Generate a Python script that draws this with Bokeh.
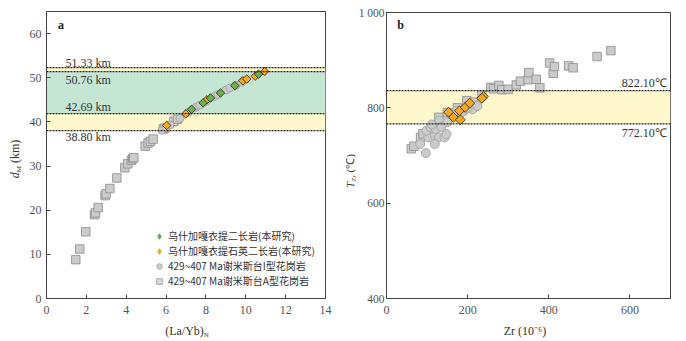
from bokeh.plotting import figure
from bokeh.models import Range1d, BoxAnnotation, Span, Label, Legend, LegendItem, FixedTicker, Div
from bokeh.layouts import row, column
from bokeh.embed import file_html
from bokeh.resources import INLINE
import numpy as np

# ---------------- data: panel a ----------------
a_sq_x = [1.47, 1.67, 1.97, 2.41, 2.46, 2.59, 2.94, 2.99, 3.18, 3.53, 3.93, 4.08, 4.26, 4.33, 4.38,
          4.95, 5.10, 5.22, 5.35, 5.86, 5.94, 6.39, 6.57]
a_sq_y = [8.8, 11.2, 15.1, 19.0, 19.4, 20.6, 23.3, 23.7, 24.9, 27.3, 29.6, 30.5, 31.3, 31.7, 31.9,
          34.5, 35.2, 35.6, 36.1, 38.4, 38.6, 40.1, 40.6]
a_ci_x = [5.8, 6.0, 6.2, 6.7, 7.1, 7.5, 7.7, 8.0, 8.4, 8.6, 9.0, 9.2, 9.5, 9.8]
a_ci_y = [38.1, 38.7, 39.3, 40.8, 42.1, 43.3, 43.8, 44.6, 45.7, 46.2, 47.2, 47.7, 48.3, 49.0]
a_gr_x = [7.28, 7.86, 8.23, 8.73, 9.45, 10.64]
a_gr_y = [42.85, 44.3, 45.4, 46.55, 48.2, 50.8]
a_or_x = [6.03, 6.99, 8.05, 9.85, 10.05, 10.47, 10.95]
a_or_y = [39.2, 41.8, 45.0, 49.3, 49.7, 50.35, 51.45]
a_band_lines = [38.0, 41.85, 51.4, 52.3]
a_band_texts = ["38.80 km", "42.69 km", "50.76 km", "51.33 km"]
a_xticks = [0, 2, 4, 6, 8, 10, 12, 14]
a_yticks = [0, 10, 20, 30, 40, 50, 60]

# ---------------- data: panel b ----------------
b_sq_x = [61, 67.6, 84, 90, 129, 198, 257, 264, 277, 284, 300, 320, 330, 349, 351, 369, 378,
          402, 411, 414, 449, 460, 519, 553, 110, 150, 175, 215, 235]
b_sq_y = [714, 719.5, 738, 745.5, 780, 815, 843, 840, 847, 838, 839, 848, 856, 859, 874, 860, 842,
          894, 872.6, 886.7, 888, 884, 907.6, 920, 752, 790, 800, 812, 826]
b_ci_x = [97, 83, 103, 98, 109, 119, 130, 122, 129, 143, 148, 119, 160, 172, 192, 212, 224,
          112, 135, 150, 165, 185, 200]
b_ci_y = [705, 724, 738, 752, 759, 741, 773, 755, 738, 738, 745, 724, 783, 794, 794, 797, 804,
          765, 760, 770, 785, 790, 800]
b_or_x = [153, 165, 182, 180, 194, 205, 239, 235]
b_or_y = [790.8, 780, 775, 794, 801, 810, 824, 820]
b_band_lines = [766.5, 836.3]
b_band_texts = ["772.10℃", "822.10℃"]
b_xticks = [0, 200, 400, 600]
b_yticks = [400, 600, 800, 1000]

legend_labels = ["乌什加嘎衣提二长岩(本研究)", "乌什加嘎衣提石英二长岩(本研究)",
                 "429~407 Ma谢米斯台I型花岗岩", "429~407 Ma谢米斯台A型花岗岩"]

SERIF = "Liberation Serif"
CJK = "Noto Sans CJK SC"
AX = "#444444"
YELLOW = "#fff8cc"
GREEN = "#c6e6d4"
GRAY_F = "#cbcbcb"
GRAY_L = "#8c8c8c"
GREEN_F = "#69b244"
ORANGE_F = "#f8aa1c"
DARK = "#222222"


def style(p, xt, yt, fs="12px"):
    p.xgrid.visible = False
    p.ygrid.visible = False
    p.outline_line_color = AX
    p.outline_line_width = 1
    p.background_fill_color = "white"
    p.border_fill_color = "white"
    for ax in (p.xaxis[0], p.yaxis[0]):
        ax.axis_line_color = AX
        ax.major_tick_line_color = AX
        ax.major_tick_in = 4
        ax.major_tick_out = 0
        ax.minor_tick_line_color = None
        ax.major_label_text_font = SERIF
        ax.major_label_text_font_size = fs
        ax.major_label_text_color = "#555555"
    p.xaxis[0].ticker = FixedTicker(ticks=xt)
    p.yaxis[0].ticker = FixedTicker(ticks=yt)
    p.xaxis[0].major_label_standoff = 7
    p.yaxis[0].major_label_standoff = 5


def lab(p, x, y, t, size="12px", style_="normal", align="center", color="#333333"):
    p.add_layout(Label(x=x, y=y, text=t, text_font=SERIF, text_font_size=size,
                       text_font_style=style_, text_align=align, text_baseline="middle",
                       text_color=color))


TXT = "font-family:'Liberation Serif',serif;color:#333;white-space:nowrap;"


def ylab_div(w, h, cx, cy, html, fs):
    inner = (f'<div style="position:relative;width:{w}px;height:{h}px;">'
             f'<div style="position:absolute;left:{cx}px;top:{cy}px;'
             f'transform:translate(-50%,-50%) rotate(-90deg);font-size:{fs}px;line-height:{fs}px;{TXT}">'
             f'{html}</div></div>')
    return Div(text=inner, width=w, height=h, margin=0)


def xlab_div(w, h, cx, top, html, fs):
    inner = (f'<div style="position:relative;width:{w}px;height:{h}px;">'
             f'<div style="position:absolute;left:{cx}px;top:{top}px;transform:translateX(-50%);'
             f'font-size:{fs}px;line-height:{fs}px;{TXT}">{html}</div></div>')
    return Div(text=inner, width=w, height=h, margin=0)


SUB = 'style="font-size:7px;line-height:0;vertical-align:-2px;"'

# ---------------- panel a ----------------
pa = figure(width=317, height=321, output_backend="svg", toolbar_location=None,
            x_range=Range1d(0, 14), y_range=Range1d(0, 65),
            min_border_left=20, min_border_right=18, min_border_top=11, min_border_bottom=23)
style(pa, a_xticks, a_yticks)

pa.add_layout(BoxAnnotation(bottom=a_band_lines[0], top=a_band_lines[3], fill_color=YELLOW,
                            fill_alpha=1, line_color=None, level="underlay"))
pa.add_layout(BoxAnnotation(bottom=a_band_lines[1], top=a_band_lines[2], fill_color=GREEN,
                            fill_alpha=1, line_color=None, level="underlay"))
for v in a_band_lines:
    pa.add_layout(Span(location=v, dimension="width", line_color="#222222",
                       line_dash="2 1", line_width=1.2))

# small glyphs hidden beneath the visible markers: they only give the legend its look
lg_sq = pa.scatter(a_sq_x, a_sq_y, marker="square", size=5.5, fill_color="#dcdcdc", line_color=GRAY_L, line_width=0.7)
lg_ci = pa.scatter(a_ci_x, a_ci_y, marker="circle", size=5.5, fill_color=GRAY_F, line_color="#a0a0a0", line_width=0.7)
lg_or = pa.scatter(a_or_x, a_or_y, marker="diamond", size=8, fill_color=ORANGE_F, line_color="#c07a00", line_width=0.5)
lg_gr = pa.scatter(a_gr_x, a_gr_y, marker="diamond", size=8, fill_color=GREEN_F, line_color="#3f7a25", line_width=0.5)

pa.scatter(a_sq_x, a_sq_y, marker="square", size=8.5, fill_color=GRAY_F, line_color=GRAY_L, line_width=0.8)
pa.scatter(a_ci_x, a_ci_y, marker="circle", size=8, fill_color=GRAY_F, line_color="#a0a0a0", line_width=0.8)
pa.scatter(a_or_x, a_or_y, marker="square", angle=np.pi / 4, size=6, fill_color=ORANGE_F,
           line_color=DARK, line_width=0.8)
pa.scatter(a_gr_x, a_gr_y, marker="square", angle=np.pi / 4, size=6, fill_color=GREEN_F,
           line_color=DARK, line_width=0.8)

leg = Legend(items=[LegendItem(label=legend_labels[0], renderers=[lg_gr]),
                    LegendItem(label=legend_labels[1], renderers=[lg_or]),
                    LegendItem(label=legend_labels[2], renderers=[lg_ci]),
                    LegendItem(label=legend_labels[3], renderers=[lg_sq])],
             location=(106, 10), padding=0, margin=0, spacing=0,
             glyph_width=14, glyph_height=14, label_height=12, label_standoff=2,
             label_text_font=CJK, label_text_font_size="10px", label_text_color="#333333",
             label_text_line_height=1.0,
             border_line_color=None, background_fill_alpha=0)
pa.add_layout(leg)

lab(pa, 0.95, 36.5, a_band_texts[0], align="left")
lab(pa, 0.95, 43.3, a_band_texts[1], align="left")
lab(pa, 0.95, 49.4, a_band_texts[2], align="left")
lab(pa, 0.95, 53.3, a_band_texts[3], align="left")
lab(pa, 0.73, 61.9, "a", size="12px", style_="bold", color="#222222")

ya_div = ylab_div(26, 321, 15, 159, f'<i>d</i><sub {SUB}>M</sub> (km)', 12)
xa_div = xlab_div(343, 20, 187, 4, f'(La/Yb)<sub {SUB}>N</sub>', 12)

# ---------------- panel b ----------------
pb = figure(width=331, height=321, output_backend="svg", toolbar_location=None,
            x_range=Range1d(0, 700), y_range=Range1d(400, 1000),
            min_border_left=29, min_border_right=16, min_border_top=12, min_border_bottom=23)
style(pb, b_xticks, b_yticks)
pb.yaxis[0].major_label_standoff = 2
pb.yaxis[0].major_label_text_font_size = "11.5px"
pb.yaxis[0].major_label_overrides = {1000: "1 000"}

pb.add_layout(BoxAnnotation(bottom=b_band_lines[0], top=b_band_lines[1], fill_color=YELLOW,
                            fill_alpha=1, line_color=None, level="underlay"))
for v in b_band_lines:
    pb.add_layout(Span(location=v, dimension="width", line_color="#222222",
                       line_dash="2 1", line_width=1.2))

pb.scatter(b_sq_x, b_sq_y, marker="square", size=8.5, fill_color=GRAY_F, line_color=GRAY_L, line_width=0.8)
pb.scatter(b_ci_x, b_ci_y, marker="circle", size=9, fill_color=GRAY_F, line_color="#a0a0a0", line_width=0.8)
pb.scatter(b_or_x, b_or_y, marker="square", angle=np.pi / 4, size=7, fill_color=ORANGE_F,
           line_color=DARK, line_width=0.8)

lab(pb, 691, 747.6, b_band_texts[0], align="right")
lab(pb, 691, 851.6, b_band_texts[1], align="right")
lab(pb, 35, 974.8, "b", size="12px", style_="bold", color="#222222")

yb_div = ylab_div(12, 321, 7, 171, f'<i>T</i><sub {SUB}>Zr</sub> (℃)', 11)
xb_div = xlab_div(343, 20, 182, 4, 'Zr (10⁻⁶)', 12)

colA = column(row(ya_div, pa), xa_div)
colB = column(row(yb_div, pb), xb_div)
layout = row(colA, colB)
open("out.html", "w").write(file_html(layout, INLINE))
